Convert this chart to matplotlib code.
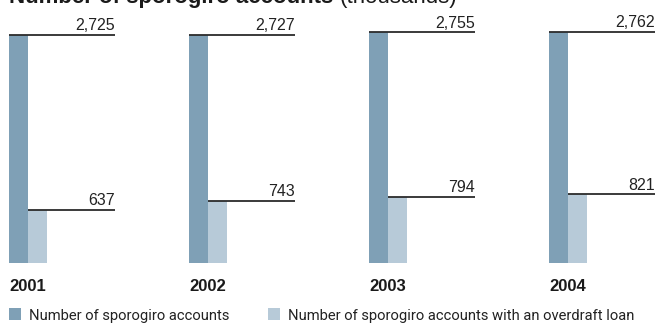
import matplotlib
matplotlib.use("Agg")
import matplotlib.pyplot as plt
from matplotlib.patches import Rectangle

# data (thousands)
years = ["2001", "2002", "2003", "2004"]
accounts = [2725, 2727, 2755, 2762]
overdraft = [637, 743, 794, 821]
labels = ["Number of sporogiro accounts",
          "Number of sporogiro accounts with an overdraft loan"]

dark = "#7fa0b6"
light = "#b7cad8"
line_col = "#2b2b2b"

W, H = 657, 323
fig = plt.figure(figsize=(W / 100, H / 100), dpi=100)

# axes: x in group units (180 px per group), y in thousands from baseline at 263 px
base_px = 263
ax = fig.add_axes([0, (H - base_px) / H, 1, base_px / H])
ax.set_xlim(-9 / 180, (W - 9) / 180)
ax.set_ylim(0, base_px / 0.0837)
ax.axis("off")

bw = 19 / 180
line_len = 106 / 180
num_kw = dict(ha="right", va="bottom", fontsize=11.5, family="Liberation Sans",
              color="#222222")
for i, yr in enumerate(years):
    ax.bar(i, accounts[i], width=bw, align="edge", color=dark, linewidth=0)
    ax.bar(i + bw, overdraft[i], width=bw, align="edge", color=light, linewidth=0)
    ax.plot([i, i + line_len], [accounts[i]] * 2, color=line_col, lw=1.3,
            solid_capstyle="butt")
    ax.plot([i + bw, i + line_len], [overdraft[i]] * 2, color=line_col, lw=1.3,
            solid_capstyle="butt")
    ax.text(i + line_len, accounts[i] + 20, f"{accounts[i]:,}", **num_kw)
    ax.text(i + line_len, overdraft[i] + 20, f"{overdraft[i]:,}", **num_kw)
    ax.text(i, -(291 - base_px) / base_px, yr, transform=ax.get_xaxis_transform(),
            ha="left", va="baseline", fontsize=12, fontweight="bold",
            family="Liberation Sans", color="#1a1a1a")

# title, cut off at top
t1 = fig.text(9 / W, 1 - 2.5 / H, "Number of sporogiro accounts", ha="left",
              va="baseline", fontsize=16, fontweight="bold",
              family="Liberation Sans", color="#1a1a1a")
fig.canvas.draw()
bb = t1.get_window_extent()
fig.text((bb.x1 + 6) / W, 1 - 2.5 / H, "(thousands)", ha="left", va="baseline",
         fontsize=16, family="Liberation Sans", color="#1a1a1a")

# legend
leg_x = [9, 268]
for x0, lab, col in zip(leg_x, labels, [dark, light]):
    fig.patches.append(Rectangle((x0 / W, 1 - 320 / H), 12 / W, 12 / H,
                                 transform=fig.transFigure, color=col, lw=0))
    fig.text((x0 + 20) / W, 1 - 320 / H, lab, ha="left", va="baseline",
             fontsize=10.6, family="Roboto", color="#222222")

fig.savefig("out.png", dpi=100)
